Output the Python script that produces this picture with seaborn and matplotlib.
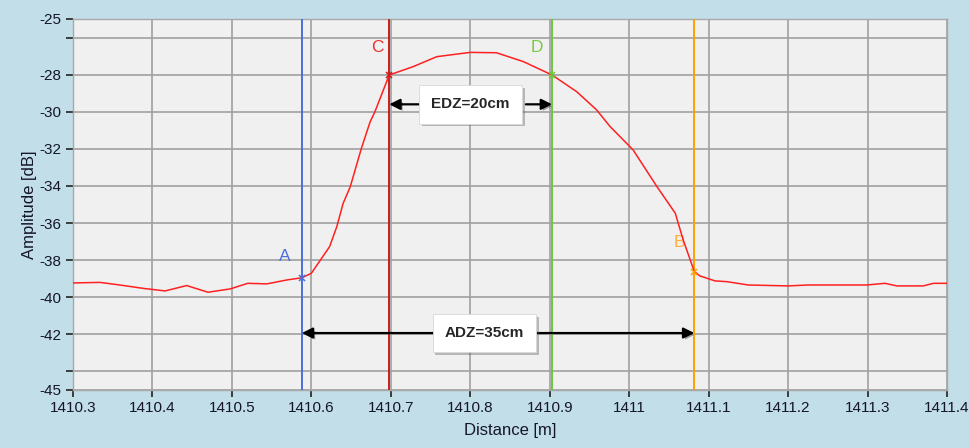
import numpy as np
import pandas as pd
import matplotlib
matplotlib.use("Agg")
import matplotlib.pyplot as plt
import matplotlib.patheffects as pe
import seaborn as sns

# trace
distance = [1410.300, 1410.334, 1410.359, 1410.388, 1410.416, 1410.443, 1410.470,
            1410.498, 1410.520, 1410.544, 1410.569, 1410.588, 1410.600, 1410.623,
            1410.632, 1410.640, 1410.649, 1410.663, 1410.674, 1410.680, 1410.698,
            1410.728, 1410.758, 1410.800, 1410.833, 1410.867, 1410.903, 1410.934,
            1410.959, 1410.976, 1411.005, 1411.035, 1411.058, 1411.068, 1411.082,
            1411.089, 1411.108, 1411.123, 1411.150, 1411.200, 1411.225, 1411.299,
            1411.322, 1411.337, 1411.370, 1411.383, 1411.400]
amplitude = [-39.23, -39.20, -39.34, -39.52, -39.66, -39.37, -39.73,
             -39.55, -39.25, -39.28, -39.07, -38.95, -38.71, -37.27,
             -36.20, -34.94, -34.04, -31.97, -30.54, -30.00, -28.02,
             -27.57, -27.03, -26.80, -26.82, -27.30, -28.02, -28.92,
             -29.90, -30.80, -32.06, -34.04, -35.47, -36.91, -38.62,
             -38.85, -39.12, -39.16, -39.34, -39.39, -39.34, -39.34,
             -39.25, -39.39, -39.39, -39.25, -39.25]

# cursors A, C, D, B
cursor_names = ["A", "C", "D", "B"]
cursor_x = [1410.588, 1410.698, 1410.903, 1411.082]
cursor_y = [-38.95, -28.02, -28.00, -38.62]
cursor_colors = ["#4a6fdc", "#c81e1e", "#6cc83a", "#ffa000"]
label_colors = ["#4a6fdc", "#f03030", "#7cc843", "#ffb040"]

edz_text = "EDZ=20cm"
adz_text = "ADZ=35cm"

y_ticks = [-25, -26, -28, -30, -32, -34, -36, -38, -40, -42, -44, -45]
y_labels = ["-25", "", "-28", "-30", "-32", "-34", "-36", "-38", "-40", "-42", "", "-45"]
x_ticks = [1410.3, 1410.4, 1410.5, 1410.6, 1410.7, 1410.8, 1410.9, 1411.0,
           1411.1, 1411.2, 1411.3, 1411.4]
x_labels = ["1410.3", "1410.4", "1410.5", "1410.6", "1410.7", "1410.8", "1410.9",
            "1411", "1411.1", "1411.2", "1411.3", "1411.4"]

df = pd.DataFrame({"Distance": distance, "Amplitude": amplitude})

sns.set_style("ticks")
plt.rcParams["font.family"] = ["Liberation Sans", "DejaVu Sans"]

fig = plt.figure(figsize=(9.69, 4.48), dpi=100, facecolor="#c2dee9")
ax = fig.add_axes([0.0753, 0.1295, 0.902, 0.8281])
ax.set_facecolor("#f0f0f0")

sns.lineplot(data=df, x="Distance", y="Amplitude", color="#ff2020", linewidth=1.1, ax=ax, zorder=4)

for name, cx, cy, col in zip(cursor_names, cursor_x, cursor_y, cursor_colors):
    ax.axvline(cx, color=col, linewidth=1.4, zorder=3)
    ax.plot(cx, cy, marker="x", color=col, markersize=5, mew=1.1, zorder=5)

ax.text(1410.567, -37.83, "A", color=label_colors[0], fontsize=12.5, ha="center", va="center")
ax.text(1410.683, -26.56, "C", color=label_colors[1], fontsize=12.5, ha="center", va="center")
ax.text(1410.884, -26.56, "D", color=label_colors[2], fontsize=12.5, ha="center", va="center")
ax.text(1411.063, -37.07, "B", color=label_colors[3], fontsize=12.5, ha="center", va="center")

arrow_fx = [pe.withSimplePatchShadow(offset=(1.5, -1.5), alpha=0.35)]
arrow = dict(arrowstyle="-|>", color="black", lw=1.6, mutation_scale=16,
             shrinkA=0, shrinkB=0, path_effects=arrow_fx)

# EDZ arrows (C to D)
edz_y = -29.6
ax.annotate("", xy=(cursor_x[1], edz_y), xytext=(1410.740, edz_y), arrowprops=arrow, zorder=6)
ax.annotate("", xy=(cursor_x[2], edz_y), xytext=(1410.870, edz_y), arrowprops=arrow, zorder=6)
t1 = ax.text(1410.8, edz_y, edz_text, fontsize=11, fontweight="bold", ha="center", va="center",
             zorder=7, bbox=dict(boxstyle="square,pad=0.8", fc="white", ec="#d8d8d8", lw=0.6))
t1.get_bbox_patch().set_path_effects([pe.withSimplePatchShadow(offset=(2, -2), alpha=0.35)])

# ADZ arrows (A to B)
adz_y = -41.93
ax.annotate("", xy=(cursor_x[0], adz_y), xytext=(1410.80, adz_y), arrowprops=arrow, zorder=6)
ax.annotate("", xy=(cursor_x[3], adz_y), xytext=(1410.85, adz_y), arrowprops=arrow, zorder=6)
t2 = ax.text(1410.818, adz_y, adz_text, fontsize=11, fontweight="bold", ha="center", va="center",
             zorder=7, bbox=dict(boxstyle="square,pad=0.8", fc="white", ec="#d8d8d8", lw=0.6))
t2.get_bbox_patch().set_path_effects([pe.withSimplePatchShadow(offset=(2, -2), alpha=0.35)])

ax.set_xlim(1410.3, 1411.4)
ax.set_ylim(-45, -25)
ax.set_xticks(x_ticks)
ax.set_xticklabels(x_labels)
ax.set_yticks(y_ticks)
ax.set_yticklabels(y_labels)
ax.grid(True, color="#a0a0a0", linewidth=1.2, zorder=1)
ax.set_axisbelow(True)
ax.tick_params(axis="both", direction="out", length=5, width=1.2, color="#222222",
               labelsize=11, labelcolor="#15152a", pad=3)
for s in ax.spines.values():
    s.set_color("#a8a8a8")
    s.set_linewidth(1.0)

ax.set_xlabel("Distance [m]", fontsize=12, color="#15152a", labelpad=6)
ax.set_ylabel("Amplitude [dB]", fontsize=12, color="#15152a", labelpad=2)

fig.savefig("out.png", dpi=100, facecolor=fig.get_facecolor())
